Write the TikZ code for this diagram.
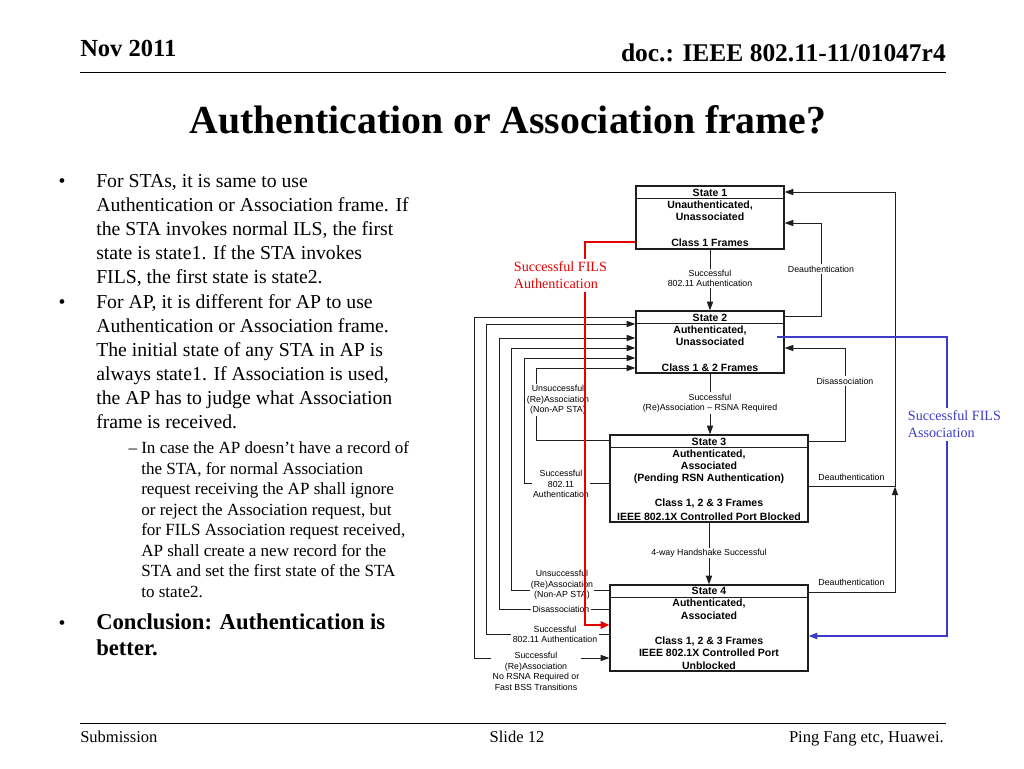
\documentclass[tikz,border=0pt]{standalone}
\usepackage{fontspec}
\setmainfont{Liberation Serif}
\newfontfamily\arialf{Liberation Sans}
\usetikzlibrary{arrows.meta,fit}
\definecolor{fred}{RGB}{230,0,0}
\definecolor{fblue}{RGB}{60,60,200}
\definecolor{ln}{RGB}{30,30,30}
\begin{document}
\begin{tikzpicture}[x=0.75pt,y=-0.75pt,
  body/.style={font=\fontsize{14.8}{18}\selectfont, anchor=base west, inner sep=0},
  subt/.style={font=\fontsize{12.8}{15}\selectfont, anchor=base west, inner sep=0},
  concl/.style={font=\bfseries\fontsize{17}{20}\selectfont, anchor=base west, inner sep=0},
  bul/.style={font=\fontsize{14.8}{18}\selectfont, anchor=base, inner sep=0},
  hdr/.style={font=\bfseries\fontsize{18.4}{21}\selectfont, inner sep=0},
  ftr/.style={font=\fontsize{12.4}{14}\selectfont, inner sep=0},
  sbox/.style={draw=ln, line width=0.95pt, inner sep=0},
  stxt/.style={font=\arialf\bfseries\fontsize{7.9}{9}\selectfont, anchor=base, inner sep=0},
  lbl/.style={font=\arialf\fontsize{6.6}{7.9}\selectfont, fill=white, inner sep=1pt, align=center},
  conn/.style={draw=ln, line width=0.75pt},
  arr/.style={conn, -{Triangle[length=6.5pt,width=4.6pt]}},
  fils/.style={font=\fontsize{10.6}{12.75}\selectfont, fill=white, inner sep=2pt, align=left, anchor=west},
]
\fill[white] (0,0) rectangle (1024,768);
\useasboundingbox (0,0) rectangle (1024,768);

% header / footer
\node[hdr, anchor=base west] (hl) at (80,56) {Nov 2011};
\node[hdr, font=\bfseries\fontsize{19.1}{22}\selectfont, anchor=base east] (hr) at (946,61) {doc.: IEEE 802.11-11/01047r4};
\draw[line width=0.75pt] (80,72) -- (946,72);
\node[font=\bfseries\fontsize{29.8}{34}\selectfont, anchor=base, inner sep=0] (title) at (508,133) {Authentication or Association frame?};
\draw[line width=0.75pt] (80,723) -- (946,723);
\node[ftr, anchor=base west] (f1) at (80,742) {Submission};
\node[ftr, anchor=base] (f2) at (517,742) {Slide 12};
\node[ftr, anchor=base east] (f3) at (944,742) {Ping Fang etc, Huawei.};

% left text
\node[bul] (b1) at (62,187) {•};
\node[body] (p1a) at (96,187) {For STAs, it is same to use};
\node[body] (p1b) at (96,211) {Authentication or Association frame. If};
\node[body] (p1c) at (96,235) {the STA invokes normal ILS, the first};
\node[body] (p1d) at (96,259) {state is state1. If the STA invokes};
\node[body] (p1e) at (96,283) {FILS, the first state is state2.};
\node[bul] (b2) at (62,308) {•};
\node[body] (p2a) at (96,308) {For AP, it is different for AP to use};
\node[body] (p2b) at (96,332) {Authentication or Association frame.};
\node[body] (p2c) at (96,356) {The initial state of any STA in AP is};
\node[body] (p2d) at (96,380) {always state1. If Association is used,};
\node[body] (p2e) at (96,404) {the AP has to judge what Association};
\node[body] (p2f) at (96,428) {frame is received.};
\node[subt, anchor=base] (b3) at (133,453.5) {–};
\node[subt] (s1a) at (141,453.5) {In case the AP doesn’t have a record of};
\node[subt] (s1b) at (141,474) {the STA, for normal Association};
\node[subt] (s1c) at (141,494.5) {request receiving the AP shall ignore};
\node[subt] (s1d) at (141,515) {or reject the Association request, but};
\node[subt] (s1e) at (141,535.5) {for FILS Association request received,};
\node[subt] (s1f) at (141,556) {AP shall create a new record for the};
\node[subt] (s1g) at (141,576.5) {STA and set the first state of the STA};
\node[subt] (s1h) at (141,597) {to state2.};
\node[bul] (b4) at (62,629.5) {•};
\node[concl] (c1) at (96,629.5) {Conclusion: Authentication is};
\node[concl] (c2) at (96,655.5) {better.};

% state boxes
\node[sbox, fit={(636,186) (784,249)}] (s1) {};
\node[sbox, fit={(636,311) (784,373)}] (s2) {};
\node[sbox, fit={(610,435) (808,522)}] (s3) {};
\node[sbox, fit={(610,585) (808,671)}] (s4) {};
\draw[conn] (s1.west |- 0,198) -- (s1.east |- 0,198);
\draw[conn] (s2.west |- 0,323) -- (s2.east |- 0,323);
\draw[conn] (s3.west |- 0,447) -- (s3.east |- 0,447);
\draw[conn] (s4.west |- 0,597) -- (s4.east |- 0,597);

\node[stxt] (s1t1) at (710,196) {State 1};
\node[stxt] (s1t2) at (710,208) {Unauthenticated,};
\node[stxt] (s1t3) at (710,220) {Unassociated};
\node[stxt] (s1t4) at (710,246) {Class 1 Frames};
\node[stxt] (s2t1) at (710,321) {State 2};
\node[stxt] (s2t2) at (710,333) {Authenticated,};
\node[stxt] (s2t3) at (710,345) {Unassociated};
\node[stxt] (s2t4) at (710,371) {Class 1 \& 2 Frames};
\node[stxt] (s3t1) at (709,445.5) {State 3};
\node[stxt] (s3t2) at (709,457.5) {Authenticated,};
\node[stxt] (s3t3) at (709,469) {Associated};
\node[stxt] (s3t4) at (709,481.5) {(Pending RSN Authentication)};
\node[stxt] (s3t5) at (709,506.5) {Class 1, 2 \& 3 Frames};
\node[stxt] (s3t6) at (709,520) {IEEE 802.1X Controlled Port Blocked};
\node[stxt] (s4t1) at (709,594.5) {State 4};
\node[stxt] (s4t2) at (709,606.5) {Authenticated,};
\node[stxt] (s4t3) at (709,619) {Associated};
\node[stxt] (s4t4) at (709,644) {Class 1, 2 \& 3 Frames};
\node[stxt] (s4t5) at (709,656.5) {IEEE 802.1X Controlled Port};
\node[stxt] (s4t6) at (709,669) {Unblocked};

% main vertical transitions
\draw[arr] (s1.south) -- (s2.north);
\node[lbl] (l12) at (710,278.5) {Successful\\802.11 Authentication};
\draw[arr] (s2.south) -- (s2.south |- s3.north);
\node[lbl] (l23) at (710,403) {Successful\\(Re)Association – RSNA Required};
\draw[arr] (s3.south) -- (s4.north);
\node[lbl] (l34) at (709,553) {4-way Handshake Successful};

% right side
\draw[arr] (s2.east |- 0,316) -- (821,316) -- (821,223) -- (s1.east |- 0,223);
\node[lbl] (ld1) at (821,269) {Deauthentication};
\draw[arr] (s3.east |- 0,441) -- (845,441) -- (845,348) -- (s2.east |- 0,348);
\node[lbl] (lda) at (845,381) {Disassociation};
\draw[arr] (s3.east |- 0,486) -- (895,486) -- (895,192) -- (s1.east |- 0,192);
\node[lbl] (ld3) at (851.5,477) {Deauthentication};
\coordinate (j3) at (895,486.5);
\draw[arr] (s4.east |- 0,592) -- (895,592) -- (j3);
\node[lbl] (ld4) at (851.5,582) {Deauthentication};

% left side
\draw[arr] (s3.west |- 0,440) -- (536,440) -- (536,368) -- (s2.west |- 0,368);
\node[lbl] (lu3) at (558,400) {Unsuccessful\\(Re)Association\\(Non-AP STA)};
\draw[arr] (s3.west |- 0,483) -- (524,483) -- (524,358) -- (s2.west |- 0,358);
\node[lbl] (la3) at (561,484) {Successful\\802.11\\Authentication};
\draw[arr] (s4.west |- 0,590) -- (511,590) -- (511,348) -- (s2.west |- 0,348);
\node[lbl] (lu4) at (562,585) {Unsuccessful\\(Re)Association\\(Non-AP STA)};
\draw[arr] (s4.west |- 0,609) -- (499,609) -- (499,338) -- (s2.west |- 0,338);
\node[lbl] (lx4) at (561,609.5) {Disassociation};
\draw[arr] (s4.west |- 0,634) -- (486,634) -- (486,324) -- (s2.west |- 0,324);
\node[lbl] (la4) at (555,634.5) {Successful\\802.11 Authentication};
\draw[arr] (s2.west |- 0,317) -- (474,317) -- (474,658) -- (s4.west |- 0,658);
\node[lbl] (lr4) at (536,671.5) {Successful\\(Re)Association\\No RSNA Required or\\Fast BSS Transitions};

% red FILS authentication
\draw[fred, line width=1.5pt, -{Triangle[length=6.5pt,width=5.5pt]}] (s1.west |- 0,242) -- (585,242) -- (585,625) -- (s4.west |- 0,625);
\node[fils, text=fred] (rl) at (511,275.5) {Successful FILS\\Authentication};

% blue FILS association
\coordinate (bs) at (777,337);
\draw[fblue, line width=1pt, -{Triangle[length=6.5pt,width=4.8pt]}] (bs) -- (947,337) -- (947,636) -- (s4.east |- 0,636);
\node[fils, text=fblue] (bl) at (905,424.5) {Successful FILS\\Association};
\end{tikzpicture}
\end{document}
